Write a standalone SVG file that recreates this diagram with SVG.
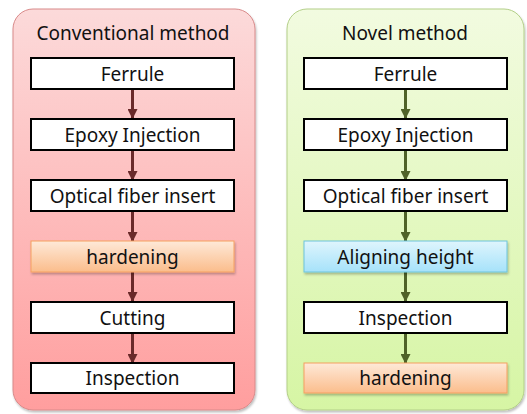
<svg xmlns="http://www.w3.org/2000/svg" width="527" height="414" viewBox="0 0 527 414">
  <defs>
    <linearGradient id="gPink" x1="0" y1="0" x2="0" y2="1">
      <stop offset="0" stop-color="#fcdada"/>
      <stop offset="1" stop-color="#ff9e9e"/>
    </linearGradient>
    <linearGradient id="gGreen" x1="0" y1="0" x2="0" y2="1">
      <stop offset="0" stop-color="#f2fbe0"/>
      <stop offset="1" stop-color="#d6f5a4"/>
    </linearGradient>
    <linearGradient id="gOrange" x1="0" y1="0" x2="0" y2="1">
      <stop offset="0" stop-color="#fee9d8"/>
      <stop offset="1" stop-color="#fbbd8c"/>
    </linearGradient>
    <linearGradient id="gBlue" x1="0" y1="0" x2="0" y2="1">
      <stop offset="0" stop-color="#dff5fd"/>
      <stop offset="1" stop-color="#a6e2fa"/>
    </linearGradient>
    <filter id="soft" x="-10%" y="-20%" width="120%" height="150%">
      <feDropShadow dx="1" dy="2" stdDeviation="1.2" flood-color="#000" flood-opacity="0.25"/>
    </filter>
    <marker id="arRed" markerWidth="10" markerHeight="10" refX="9" refY="5" orient="auto" markerUnits="userSpaceOnUse" viewBox="0 0 10 10">
      <path d="M0,0 L10,5 L0,10 z" fill="#6a2a2a"/>
    </marker>
    <marker id="arGreen" markerWidth="10" markerHeight="10" refX="9" refY="5" orient="auto" markerUnits="userSpaceOnUse" viewBox="0 0 10 10">
      <path d="M0,0 L10,5 L0,10 z" fill="#4f6228"/>
    </marker>
  </defs>
  <style>
    text { font-family: "Noto Sans", "Open Sans", "DejaVu Sans", sans-serif; fill: #111; text-anchor: middle; }
    .title { font-size: 19px; }
    .lbl { font-size: 19px; }
    .plain { fill: #fff; stroke: #000; stroke-width: 2; }
    .orange { fill: url(#gOrange); stroke: #f5a060; stroke-width: 1; filter: url(#soft); }
    .blue { fill: url(#gBlue); stroke: #6cc4dc; stroke-width: 1; filter: url(#soft); }
    .red { stroke: #6a2a2a; stroke-width: 3; fill: none; marker-end: url(#arRed); }
    .green { stroke: #4f6228; stroke-width: 3; fill: none; marker-end: url(#arGreen); }
  </style>

  <!-- panels -->
  <g id="panel-conventional">
    <rect x="13" y="9" width="242" height="401" rx="20" fill="url(#gPink)" stroke="#d88a8a" stroke-width="1" filter="url(#soft)"/>
    <text class="title" x="133" y="40">Conventional method</text>
  </g>
  <g id="panel-novel">
    <rect x="287" y="9" width="237" height="401" rx="20" fill="url(#gGreen)" stroke="#b3cf88" stroke-width="1" filter="url(#soft)"/>
    <text class="title" x="405" y="40">Novel method</text>
  </g>

  <!-- connectors -->
  <g id="connectors">
    <line class="red" x1="132.5" y1="89" x2="132.5" y2="118"/>
    <line class="red" x1="132.5" y1="150" x2="132.5" y2="180"/>
    <line class="red" x1="132.5" y1="211" x2="132.5" y2="241"/>
    <line class="red" x1="132.5" y1="272" x2="132.5" y2="301"/>
    <line class="red" x1="132.5" y1="333" x2="132.5" y2="363"/>
    <line class="green" x1="405.5" y1="89" x2="405.5" y2="118"/>
    <line class="green" x1="405.5" y1="150" x2="405.5" y2="180"/>
    <line class="green" x1="405.5" y1="211" x2="405.5" y2="241"/>
    <line class="green" x1="405.5" y1="272" x2="405.5" y2="301"/>
    <line class="green" x1="405.5" y1="333" x2="405.5" y2="363"/>
  </g>

  <!-- conventional steps -->
  <g id="c-ferrule"><rect class="plain" x="31" y="58" width="203" height="31"/><text class="lbl" x="132.5" y="81">Ferrule</text></g>
  <g id="c-epoxy"><rect class="plain" x="31" y="119" width="203" height="31"/><text class="lbl" x="132.5" y="142">Epoxy Injection</text></g>
  <g id="c-fiber"><rect class="plain" x="31" y="180" width="203" height="31"/><text class="lbl" x="132.5" y="203">Optical fiber insert</text></g>
  <g id="c-hardening"><rect class="orange" x="31" y="241" width="203" height="31"/><text class="lbl" x="132.5" y="264">hardening</text></g>
  <g id="c-cutting"><rect class="plain" x="31" y="302" width="203" height="31"/><text class="lbl" x="132.5" y="325">Cutting</text></g>
  <g id="c-inspection"><rect class="plain" x="31" y="363" width="203" height="30"/><text class="lbl" x="132.5" y="385">Inspection</text></g>

  <!-- novel steps -->
  <g id="n-ferrule"><rect class="plain" x="304" y="58" width="203" height="31"/><text class="lbl" x="405.5" y="81">Ferrule</text></g>
  <g id="n-epoxy"><rect class="plain" x="304" y="119" width="203" height="31"/><text class="lbl" x="405.5" y="142">Epoxy Injection</text></g>
  <g id="n-fiber"><rect class="plain" x="304" y="180" width="203" height="31"/><text class="lbl" x="405.5" y="203">Optical fiber insert</text></g>
  <g id="n-aligning"><rect class="blue" x="304" y="241" width="203" height="31"/><text class="lbl" x="405.5" y="264">Aligning height</text></g>
  <g id="n-inspection"><rect class="plain" x="304" y="302" width="203" height="31"/><text class="lbl" x="405.5" y="325">Inspection</text></g>
  <g id="n-hardening"><rect class="orange" x="304" y="363" width="203" height="30"/><text class="lbl" x="405.5" y="385">hardening</text></g>
</svg>
